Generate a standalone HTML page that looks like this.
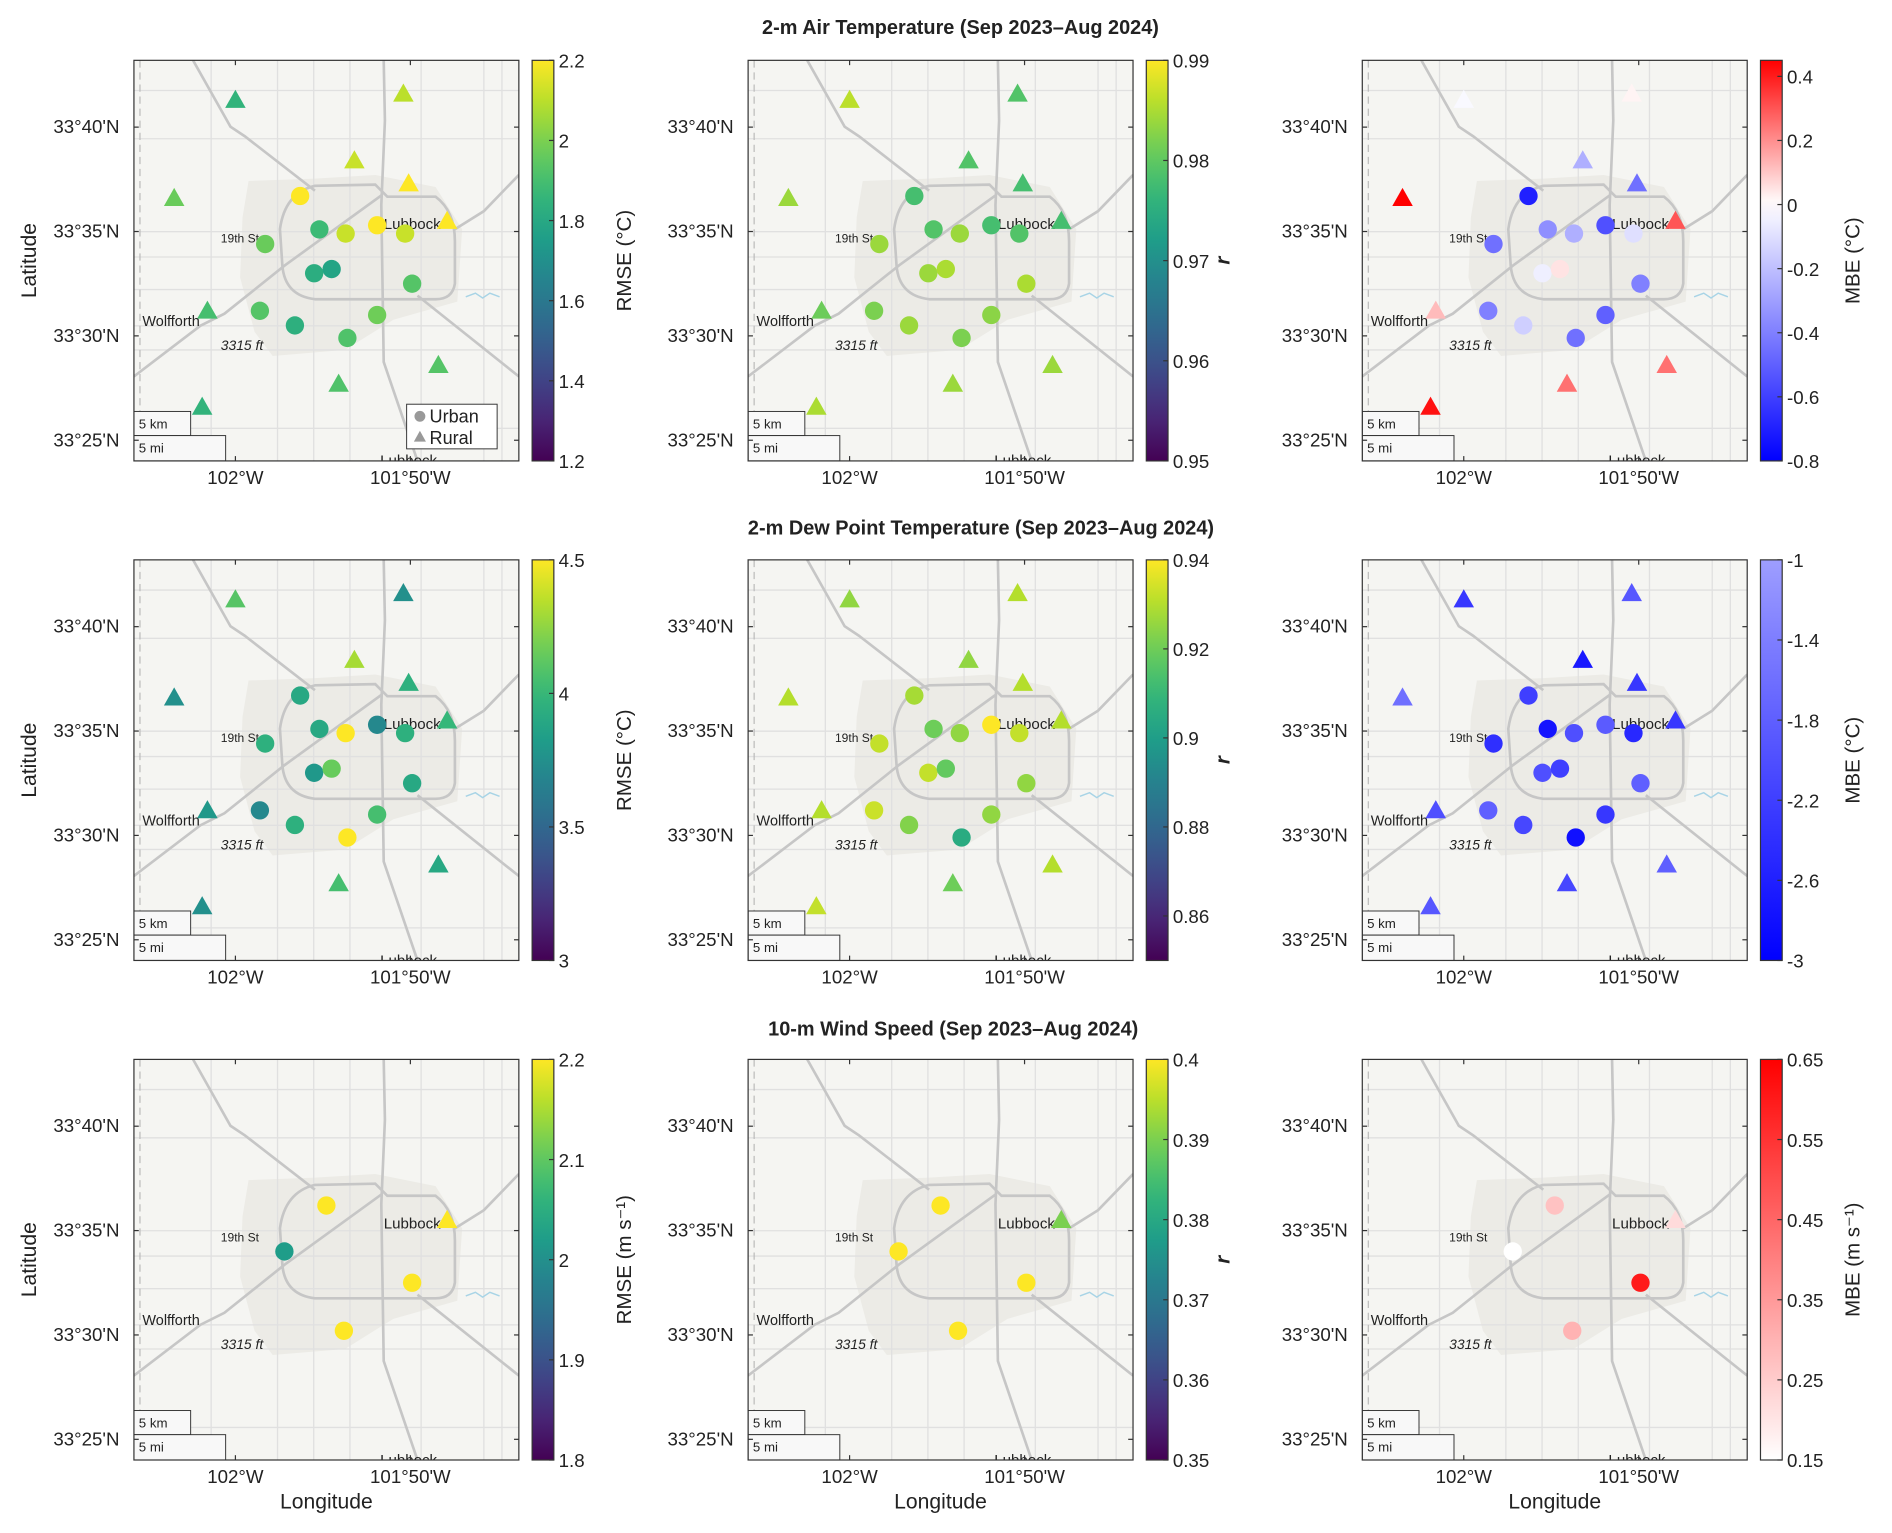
<!DOCTYPE html>
<html><head><meta charset="utf-8"><style>
html,body{margin:0;padding:0;background:#fff}
svg{display:block}
text{font-family:"Liberation Sans",Arial,sans-serif;fill:#222}
</style></head><body>
<svg id="fig" width="1892" height="1533" viewBox="0 0 1568 1270.5" preserveAspectRatio="none" xmlns="http://www.w3.org/2000/svg">
<text x="796" y="28" text-anchor="middle" font-size="16.5" font-weight="bold">2-m Air Temperature (Sep 2023–Aug 2024)</text>
<text x="813" y="443" text-anchor="middle" font-size="16.5" font-weight="bold">2-m Dew Point Temperature (Sep 2023–Aug 2024)</text>
<text x="790" y="858" text-anchor="middle" font-size="16.5" font-weight="bold">10-m Wind Speed (Sep 2023–Aug 2024)</text>
<g id="panels"></g>
</svg>
<script>
// station positions: minutes east of 102°W, minutes north of 33°25'N
const stLon = [0.0,9.6,-3.5,6.8,9.9,12.1,-1.6,11.6,5.9,-1.9, 3.7,4.8,6.3,8.1,9.7,1.7,4.5,5.5,10.1,1.4,3.4,8.1,6.4];
const stLat = [16.3,16.6,11.6,13.4,12.3,10.5,6.2,3.6,2.7,1.6, 11.7,10.1,9.9,10.3,9.9,9.4,8.0,8.2,7.5,6.2,5.5,6.0,4.9];
const stType = ['R','R','R','R','R','R','R','R','R','R','U','U','U','U','U','U','U','U','U','U','U','U','U'];
const airRmse = [1.85,2.1,1.97,2.12,2.2,2.2,1.9,1.93,1.92,1.85, 2.2,1.88,2.12,2.2,2.12,1.97,1.82,1.78,1.93,1.93,1.83,1.98,1.92];
const airR    = [0.986,0.979,0.984,0.979,0.978,0.978,0.981,0.984,0.984,0.985, 0.978,0.979,0.984,0.978,0.979,0.984,0.984,0.985,0.985,0.982,0.984,0.983,0.982];
const airMbe  = [-0.02,0.02,0.45,-0.25,-0.45,0.3,0.12,0.25,0.25,0.42, -0.7,-0.35,-0.25,-0.55,-0.1,-0.45,-0.05,0.05,-0.4,-0.4,-0.15,-0.5,-0.45];
const dewRmse = [4.1,3.75,3.75,4.3,3.95,4.0,3.8,3.9,4.05,3.75, 3.9,3.9,4.5,3.7,3.95,3.95,3.8,4.15,3.9,3.7,3.95,4.05,4.5];
const dewR    = [0.925,0.93,0.93,0.925,0.93,0.93,0.93,0.93,0.92,0.932, 0.928,0.92,0.925,0.94,0.932,0.932,0.932,0.918,0.925,0.933,0.923,0.925,0.905];
const dewMbe  = [-2.3,-1.9,-1.6,-2.7,-2.3,-2.3,-2.0,-1.8,-2.1,-1.9, -2.2,-2.75,-2.0,-1.85,-2.5,-2.4,-2.0,-2.2,-1.8,-1.8,-2.1,-2.3,-2.8];
// wind stations
const wLon = [5.2,2.8,12.1,10.1,6.2];
const wLat = [11.2,9.0,10.5,7.5,5.2];
const wType = ['U','U','R','U','U'];
const windRmse = [2.2,2.02,2.2,2.2,2.2];
const windR    = [0.40,0.40,0.39,0.40,0.40];
const windMbe  = [0.27,0.15,0.22,0.6,0.3];
// colorbar ticks
const ticksAirRmse=[1.2,1.4,1.6,1.8,2,2.2], ticksAirR=[0.95,0.96,0.97,0.98,0.99], ticksAirMbe=[-0.8,-0.6,-0.4,-0.2,0,0.2,0.4];
const ticksDewRmse=[3,3.5,4,4.5], ticksDewR=[0.86,0.88,0.9,0.92,0.94], ticksDewMbe=[-3,-2.6,-2.2,-1.8,-1.4,-1];
const ticksWindRmse=[1.8,1.9,2,2.1,2.2], ticksWindR=[0.35,0.36,0.37,0.38,0.39,0.4], ticksWindMbe=[0.15,0.25,0.35,0.45,0.55,0.65];

const NS='http://www.w3.org/2000/svg';
function mk(tag,attrs,parent){const e=document.createElementNS(NS,tag);for(const k in attrs)e.setAttribute(k,attrs[k]);if(parent)parent.appendChild(e);return e;}
const VIR=[[68,1,84],[72,40,120],[62,74,137],[49,104,142],[38,130,142],[31,158,137],[53,183,121],[109,205,89],[180,222,44],[253,231,37]];
function viridis(t){t=Math.max(0,Math.min(1,t));const p=t*(VIR.length-1),i=Math.min(VIR.length-2,Math.floor(p)),f=p-i;const a=VIR[i],b=VIR[i+1];return `rgb(${a.map((v,j)=>Math.round(v+(b[j]-v)*f)).join(',')})`;}
function bwr(v,lo,hi){if(v<0){const w=1-Math.min(1,v/lo);return `rgb(${Math.round(255*w)},${Math.round(255*w)},255)`;}const w=1-Math.min(1,v/hi);return `rgb(255,${Math.round(255*w)},${Math.round(255*w)})`;}
function blues(v,lo,hi){const w=0.62*(v-lo)/(hi-lo);return `rgb(${Math.round(255*w)},${Math.round(255*w)},255)`;}
function reds(v,lo,hi){const w=1-(v-lo)/(hi-lo);return `rgb(255,${Math.round(255*w)},${Math.round(255*w)})`;}

const colX=[111,620,1129], rowY=[50,464,878], MW=319, MH=332;
const panels=[
 {r:0,c:0,vals:airRmse,lon:stLon,lat:stLat,type:stType,lo:1.2,hi:2.2,ticks:ticksAirRmse,cm:'v',label:'RMSE (°C)',name:'air-rmse'},
 {r:0,c:1,vals:airR,lon:stLon,lat:stLat,type:stType,lo:0.95,hi:0.99,ticks:ticksAirR,cm:'v',label:'r',name:'air-r'},
 {r:0,c:2,vals:airMbe,lon:stLon,lat:stLat,type:stType,lo:-0.8,hi:0.45,ticks:ticksAirMbe,cm:'bwr',label:'MBE (°C)',name:'air-mbe'},
 {r:1,c:0,vals:dewRmse,lon:stLon,lat:stLat,type:stType,lo:3,hi:4.5,ticks:ticksDewRmse,cm:'v',label:'RMSE (°C)',name:'dew-rmse'},
 {r:1,c:1,vals:dewR,lon:stLon,lat:stLat,type:stType,lo:0.85,hi:0.94,ticks:ticksDewR,cm:'v',label:'r',name:'dew-r'},
 {r:1,c:2,vals:dewMbe,lon:stLon,lat:stLat,type:stType,lo:-3,hi:-1,ticks:ticksDewMbe,cm:'blues',label:'MBE (°C)',name:'dew-mbe'},
 {r:2,c:0,vals:windRmse,lon:wLon,lat:wLat,type:wType,lo:1.8,hi:2.2,ticks:ticksWindRmse,cm:'v',label:'RMSE (m s⁻¹)',name:'wind-rmse'},
 {r:2,c:1,vals:windR,lon:wLon,lat:wLat,type:wType,lo:0.35,hi:0.40,ticks:ticksWindR,cm:'v',label:'r',name:'wind-r'},
 {r:2,c:2,vals:windMbe,lon:wLon,lat:wLat,type:wType,lo:0.15,hi:0.65,ticks:ticksWindMbe,cm:'reds',label:'MBE (m s⁻¹)',name:'wind-mbe'}
];
function colorFor(p,v){if(p.cm==='v')return viridis((v-p.lo)/(p.hi-p.lo));if(p.cm==='bwr')return bwr(v,p.lo,p.hi);if(p.cm==='blues')return blues(v,p.lo,p.hi);return reds(v,p.lo,p.hi);}
function cbGrad(p,id,defs){const g=mk('linearGradient',{id:id,x1:0,y1:1,x2:0,y2:0},defs);for(let i=0;i<=20;i++){const v=p.lo+(p.hi-p.lo)*i/20;mk('stop',{offset:(i/20),'stop-color':colorFor(p,v)},g);}}

const root=document.getElementById('panels');
const defs=mk('defs',{},root);
panels.forEach((p,idx)=>{
 const X=colX[p.c],Y=rowY[p.r];
 const xOf=m=>X+(m+5.8)*14.5, yOf=m=>Y+(18.2-m)*17.3;
 const g=mk('g',{},root);
 
 
 const cp=mk('clipPath',{id:'cp'+idx},defs);mk('rect',{x:X,y:Y,width:MW,height:MH},cp);
 const m=mk('g',{'clip-path':`url(#cp${idx})`},g);
 const bg=mk('rect',{x:X,y:Y,width:MW,height:MH,fill:'#f5f5f2'},m);
 
 
 mk('path',{d:`M${X+95},${Y+100} L${X+150},${Y+98} L${X+200},${Y+95} L${X+250},${Y+105} L${X+272},${Y+140} L${X+268},${Y+200} L${X+215},${Y+215} L${X+175},${Y+240} L${X+115},${Y+245} L${X+100},${Y+225} L${X+88},${Y+180} L${X+90},${Y+130} Z`,fill:'#ecebe6'},m);
 [25,65,142,163,190,220,240,305].forEach(yy=>mk('line',{x1:X,x2:X+MW,y1:Y+yy,y2:Y+yy,stroke:'#e0e0e0','stroke-width':1.1},m));
 [64,119,149,179,238,290,305].forEach(xx=>mk('line',{x1:X+xx,x2:X+xx,y1:Y,y2:Y+MH,stroke:'#e0e0e0','stroke-width':1.1},m));
 const roads=[
  `M${X+49},${Y} L${X+80},${Y+55} L${X+92},${Y+63} L${X+150},${Y+108}`,
  `M${X+235},${Y+195} L${X+319},${Y+262}`,
  `M${X+207},${Y} L${X+208},${Y+50} L${X+205},${Y+120} L${X+207},${Y+250} L${X+235},${Y+332}`,
  `M${X+319},${Y+95} L${X+290},${Y+125} L${X+266},${Y+140}`,
  `M${X},${Y+262} L${X+55},${Y+220} L${X+75},${Y+210} L${X+125},${Y+170} L${X+205},${Y+112}`,
  `M${X+121},${Y+140} Q${X+125},${Y+110} ${X+150},${Y+104} L${X+200},${Y+103} L${X+210},${Y+113} L${X+250},${Y+113} Q${X+266},${Y+125} ${X+266},${Y+150} L${X+266},${Y+185} Q${X+264},${Y+198} ${X+250},${Y+198} L${X+150},${Y+198} Q${X+125},${Y+195} ${X+123},${Y+170} Z`];
 roads.forEach(d=>mk('path',{d:d,fill:'none',stroke:'#c6c6c6','stroke-width':2.2},m));
 mk('path',{d:`M${X+275},${Y+196} l8,-3 l6,4 l6,-4 l8,3`,fill:'none',stroke:'#a8d4e6','stroke-width':1.2},m);
 mk('line',{x1:X+5,x2:X+5,y1:Y,y2:Y+MH,stroke:'#bbb','stroke-dasharray':'6,4','stroke-width':1},m);
 const lab=(t,x,y,fs,it)=>{const e=mk('text',{x:X+x,y:Y+y,'font-size':fs,fill:'#555'},m);if(it)e.setAttribute('font-style','italic');e.textContent=t;return e;};
 lab('19th St',72,151,10);lab('Lubbock',207,140,12.5);lab('Wolfforth',7,220,12);lab('3315 ft',72,240,11.5,true);lab('Lubbock',204,336,12.5);
 mk('rect',{x:X,y:Y+291,width:47,height:20,fill:'#f8f8f8',stroke:'#333','stroke-width':0.8},m);
 mk('rect',{x:X,y:Y+311,width:76,height:21,fill:'#f8f8f8',stroke:'#333','stroke-width':0.8},m);
 const s1=mk('text',{x:X+4,y:Y+305,'font-size':11},m);s1.textContent='5 km';
 const s2=mk('text',{x:X+4,y:Y+325,'font-size':11},m);s2.textContent='5 mi';
 p.vals.forEach((v,i)=>{
  const cx=xOf(p.lon[i]),cy=yOf(p.lat[i]),col=colorFor(p,v);
  let e;
  if(p.type[i]==='U'){e=mk('circle',{cx:cx,cy:cy,r:7.6,fill:col},m);}
  else{e=mk('polygon',{points:`${cx},${cy-8.5} ${cx+8.5},${cy+6.5} ${cx-8.5},${cy+6.5}`,fill:col},m);}
  
  
 });
 mk('rect',{x:X,y:Y,width:MW,height:MH,fill:'none',stroke:'#333','stroke-width':1},g);
 [25,30,35,40].forEach(mn=>{const y=yOf(mn-25);
  mk('line',{x1:X,x2:X+4,y1:y,y2:y,stroke:'#333'},g);mk('line',{x1:X+MW-4,x2:X+MW,y1:y,y2:y,stroke:'#333'},g);
  const t=mk('text',{x:X-12,y:y+5,'text-anchor':'end','font-size':15.5},g);t.textContent=`33°${mn}'N`;
  });
 [[0,'102°W'],[10,"101°50'W"]].forEach(([mn,s])=>{const x=xOf(mn);
  mk('line',{x1:x,x2:x,y1:Y,y2:Y+4,stroke:'#333'},g);mk('line',{x1:x,x2:x,y1:Y+MH-4,y2:Y+MH,stroke:'#333'},g);
  const t=mk('text',{x:x,y:Y+MH+19,'text-anchor':'middle','font-size':15.5},g);t.textContent=s;
  });
 const cbx=X+MW+11,cbw=18;
 cbGrad(p,'gr'+idx,defs);
 const cb=mk('rect',{x:cbx,y:Y,width:cbw,height:MH,fill:`url(#gr${idx})`,stroke:'#333','stroke-width':1},g);
 
 
 p.ticks.forEach(tv=>{const y=Y+MH-(tv-p.lo)/(p.hi-p.lo)*MH;
  mk('line',{x1:cbx+cbw-4,x2:cbx+cbw,y1:y,y2:y,stroke:'#333'},g);
  const t=mk('text',{x:cbx+cbw+4,y:y+6,'font-size':15.5},g);t.textContent=String(tv);
  });
 const lx=cbx+cbw+64, ly=Y+MH/2;
 const cl=mk('text',{x:lx,y:ly,'text-anchor':'middle','font-size':17,transform:`rotate(-90 ${lx} ${ly})`},g);
 if(p.label==='r'){cl.setAttribute('font-style','italic');cl.setAttribute('font-weight','bold');cl.setAttribute('x',lx-13);cl.setAttribute('transform',`rotate(-90 ${lx-13} ${ly})`);}
 cl.textContent=p.label;
 
 if(p.c===0){const t=mk('text',{x:30,y:Y+MH/2,'text-anchor':'middle','font-size':17.5,transform:`rotate(-90 30 ${Y+MH/2})`},g);t.textContent='Latitude';
  }
 if(p.r===2){const t=mk('text',{x:X+MW/2,y:Y+MH+40,'text-anchor':'middle','font-size':17.5},g);t.textContent='Longitude';
  }
 if(idx===0){const lg=mk('g',{},g);
  
  mk('rect',{x:337,y:335,width:75,height:37,fill:'#fff',stroke:'#333','stroke-width':0.8},lg);
  mk('circle',{cx:348,cy:345,r:4.5,fill:'#999'},lg);
  mk('polygon',{points:'348,357 353,366 343,366',fill:'#999'},lg);
  const a=mk('text',{x:356,y:350,'font-size':15},lg);a.textContent='Urban';
  const b=mk('text',{x:356,y:368,'font-size':15},lg);b.textContent='Rural';}
});
</script>
</body></html>
